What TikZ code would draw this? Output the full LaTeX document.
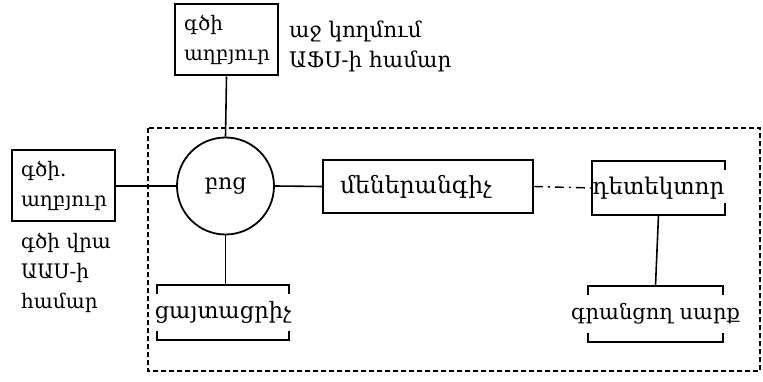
\documentclass[tikz,border=0pt]{standalone}
\usepackage{fontspec}
\setmainfont{DejaVu Serif}
\newcommand{\fs}[1]{\fontsize{#1}{30}\selectfont}
\begin{document}
\begin{tikzpicture}[x=1pt,y=-1pt,
  every node/.style={inner sep=0pt},
  srcbox/.style={draw, line width=2pt, minimum width=103pt, minimum height=71pt},
  monobox/.style={draw, line width=1.8pt, minimum height=53pt, text width=176pt, inner xsep=17pt, align=left, font=\fs{23.5}},
  plain/.style={minimum width=#1, minimum height=54pt},
  conn/.style={line width=1.6pt},
  brk/.style={line width=2pt},
  dashdot/.style={line width=1.4pt, dash pattern=on 9pt off 5pt on 2pt off 5pt},
  frame/.style={line width=1.5pt, dash pattern=on 5pt off 3pt}
]
\useasboundingbox (0,0) rectangle (763,382);
\draw[frame] (148,128) rectangle (760,371);
% nodes
\node[srcbox] (top) at (226.5,40) {};
\node[anchor=west, font=\fs{20}] (toptxt) at (184,40) {\begin{tabular}{@{}l@{}}գծի\\[0pt]աղբյուր\end{tabular}};
\node[anchor=north west, align=left, font=\fs{21.5}] (topnote) at (289,21) {աջ կողմում\\ԱՖՍ-ի համար};
\node[srcbox] (left) at (63.5,186) {};
\node[anchor=west, font=\fs{20}] (lefttxt) at (21,186) {\begin{tabular}{@{}l@{}}գծի.\\[0pt]աղբյուր\end{tabular}};
\node[anchor=north west, align=left, font=\fs{20}] (leftnote) at (21,233) {գծի վրա\\ԱԱՍ-ի\\համար};
\node[draw, circle, line width=1.8pt, minimum size=97pt, font=\fs{22}] (flame) at (225.5,186) {բոց};
\node[monobox] (mono) at (428,186.5) {մեներանգիչ};
\node[plain=133pt, font=\fs{23}] (det) at (658.5,188) {\makebox[133pt]{դետեկտոր}};
\node[plain=135pt, minimum height=56pt, font=\fs{21}] (rec) at (655.5,314) {\makebox[135pt]{գրանցող սարք}};
\node[plain=132pt, minimum height=55pt, font=\fs{22.5}] (atom) at (223,312.5) {\makebox[132pt]{ցայտացրիչ}};
% brackets
\draw[brk] ([yshift=-9pt]det.north east) -- (det.north east) -- (det.north west) -- (det.south west) -- (det.south east) -- ([yshift=12pt]det.south east);
\foreach \n in {rec,atom}{
  \draw[brk] ([yshift=-9pt]\n.north west) -- (\n.north west) -- (\n.north east) -- ([yshift=-9pt]\n.north east);
  \draw[brk] ([yshift=9pt]\n.south west) -- (\n.south west) -- (\n.south east) -- ([yshift=9pt]\n.south east);
}
% connectors
\draw[conn] (top.south) -- (flame.north);
\draw[conn] (left.east) -- (flame.west);
\draw[conn] (flame.east) -- (mono.west);
\draw[dashdot] (mono.east) -- (det.west);
\draw[conn] (det.south) -- (rec.north);
\draw[conn] (flame.south) -- (flame.south |- atom.north);
\end{tikzpicture}
\end{document}
